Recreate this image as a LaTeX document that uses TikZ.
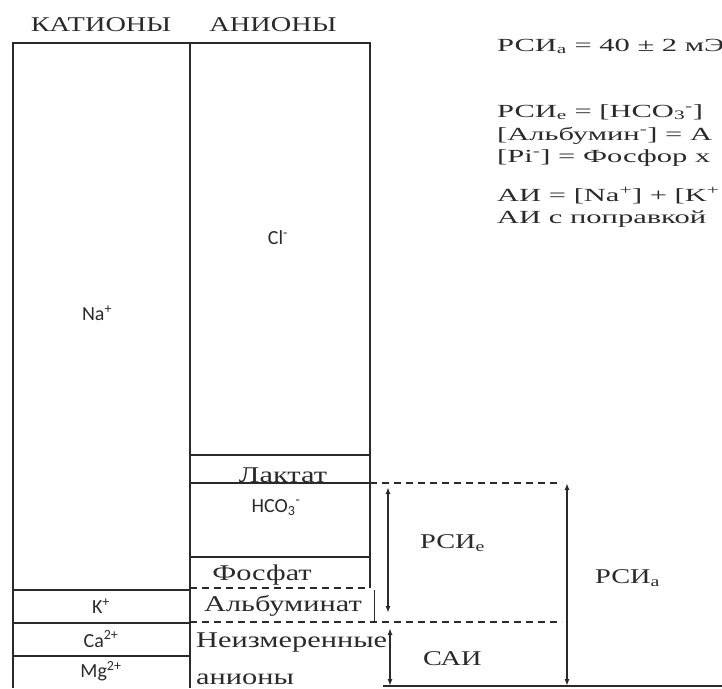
\documentclass[tikz,border=0pt]{standalone}
\usepackage{fontspec}
\setmainfont{Liberation Serif}[FakeStretch=1.35]
\newfontfamily\eqfont{Liberation Serif}[FakeStretch=1.65]
\newfontfamily\ionfont{Carlito}
\usetikzlibrary{arrows.meta}
\definecolor{ink}{HTML}{2A2A2A}
\tikzset{
  cell/.style={draw=ink, line width=1.8pt},
  dashsep/.style={draw=ink, line width=1.4pt, dash pattern=on 7pt off 5pt},
  span/.style={draw=ink, line width=1.4pt, {Latex[length=7pt,width=5pt]}-{Latex[length=7pt,width=5pt]}},
  ion/.style={font=\ionfont\fontsize{20}{24}\selectfont, text=ink, inner sep=0pt},
  lbl/.style={font=\fontsize{22.5}{26}\selectfont, text=ink, inner sep=0pt},
  big/.style={font=\fontsize{21}{24}\selectfont, text=ink, inner sep=0pt},
  eqn/.style={font=\eqfont\fontsize{18.5}{21}\selectfont, text=ink, inner sep=0pt, anchor=base west},
}
\begin{document}
\begin{tikzpicture}[x=1pt,y=-1pt]
\useasboundingbox (0,0) rectangle (722,688);
\node[big, anchor=base] (hcat) at (101,31) {КАТИОНЫ};
\node[big, anchor=base] (hani) at (273,31) {АНИОНЫ};
% columns
\draw[cell] (13,688) -- (13,43) -- (370,43) -- (370,588);
\draw[cell] (190,43) -- (190,688);
\draw[cell] (13,590) -- (190,590);
\draw[cell] (13,623) -- (190,623);
\draw[cell] (13,656) -- (190,656);
\draw[cell] (190,455) -- (370,455);
\draw[cell] (190,483) -- (370,483);
\draw[cell] (190,557) -- (370,557);
\draw[draw=ink, line width=0.8pt] (374,590) -- (374,622);
\draw[dashsep] (190,588) -- (370,588);
\draw[dashsep] (370,483) -- (562,483);
\draw[dashsep] (190,622) -- (562,622);
\draw[draw=ink, line width=1.4pt] (383,686) -- (722,686);
% ions
\node[ion] (na) at (97,313) {Na\textsuperscript{+}};
\node[ion] (cl) at (278,238) {Cl\textsuperscript{-}};
\node[ion] (k) at (101,606) {K\textsuperscript{+}};
\node[ion] (ca) at (101,639) {Ca\textsuperscript{2+}};
\node[ion] (mg) at (101,671) {Mg\textsuperscript{2+}};
\node[ion, anchor=base] (hco) at (276,512) {HCO\textsubscript{3}\textsuperscript{-}};
\node[lbl, anchor=base, fill=white, inner xsep=3pt] (lac) at (283,482) {Лактат};
\node[lbl, anchor=base] (pho) at (262,580) {Фосфат};
\node[lbl, anchor=base] (alb) at (283,611) {Альбуминат};
\node[lbl, anchor=base west] (unm) at (196,647) {Неизмеренные};
\node[lbl, anchor=base west] (unm2) at (196,684) {анионы};
% spans
\coordinate (e1) at (388,487);
\coordinate (e2) at (388,613);
\coordinate (s1) at (390,628);
\coordinate (s2) at (390,686);
\coordinate (a1) at (567,483);
\coordinate (a2) at (567,686);
\draw[span] (e1) -- (e2);
\draw[span] (s1) -- (s2);
\draw[span] (a1) -- (a2);
\node[big, anchor=base west] (rcie) at (420,548) {РСИ\textsubscript{е}};
\node[big, anchor=base west] (rcia) at (595,583) {РСИ\textsubscript{а}};
\node[big, anchor=base west] (sai) at (423,665) {САИ};
% formulas
\node[eqn] (f1) at (497,51) {РСИ\textsubscript{а} = 40 ± 2 мЭ};
\node[eqn] (f2) at (497,117) {РСИ\textsubscript{е} = [HCO\textsubscript{3}\textsuperscript{-}]};
\node[eqn] (f3) at (497,140) {[Альбумин\textsuperscript{-}] = А};
\node[eqn] (f4) at (497,162) {[Pi\textsuperscript{-}] = Фосфор х};
\node[eqn] (f5) at (497,201) {АИ = [Na\textsuperscript{+}] + [K\textsuperscript{+}};
\node[eqn] (f6) at (497,223) {АИ с поправкой};
\end{tikzpicture}
\end{document}
